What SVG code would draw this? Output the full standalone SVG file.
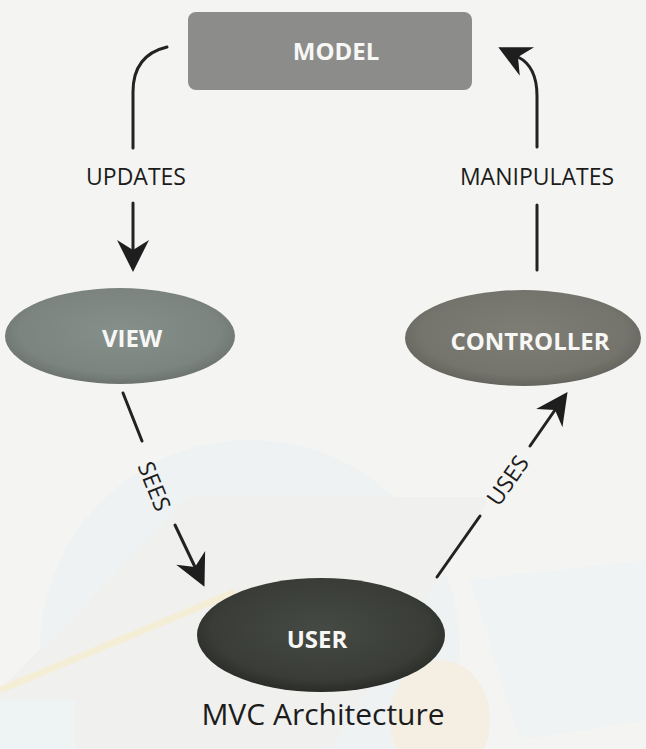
<svg xmlns="http://www.w3.org/2000/svg" width="646" height="749" viewBox="0 0 646 749">
<style>
.lbl{font-family:"Open Sans","Liberation Sans",sans-serif;font-size:23px;fill:#1c1c1c;text-anchor:middle;dominant-baseline:central}
.ntx{font-family:"Open Sans","Liberation Sans",sans-serif;font-size:24px;font-weight:bold;fill:#f7f7f5;text-anchor:middle;dominant-baseline:central}
.cap{font-family:"Open Sans","Liberation Sans",sans-serif;font-size:30px;fill:#1c1c1c;text-anchor:middle}
.ln{fill:none;stroke:#222;stroke-width:3;stroke-linecap:round}
.wm{stroke:none}
</style>
<defs>
<marker id="ah" viewBox="-12 -17 36 34" markerWidth="36" markerHeight="34" refX="0" refY="0" orient="auto" markerUnits="userSpaceOnUse">
<path d="M22,0 L-10,-16 L0,0 L-10,16 Z" fill="#1e1e1e"/>
</marker>
<radialGradient id="gView" cx="50%" cy="45%" r="55%"><stop offset="0" stop-color="#86908b"/><stop offset="0.8" stop-color="#7b847f"/><stop offset="1" stop-color="#6c736f"/></radialGradient>
<radialGradient id="gCtrl" cx="50%" cy="45%" r="55%"><stop offset="0" stop-color="#7e7e77"/><stop offset="0.8" stop-color="#74746c"/><stop offset="1" stop-color="#65655e"/></radialGradient>
<radialGradient id="gUser" cx="50%" cy="45%" r="55%"><stop offset="0" stop-color="#464a44"/><stop offset="0.8" stop-color="#393c37"/><stop offset="1" stop-color="#2a2c28"/></radialGradient>
</defs>
<rect width="646" height="749" fill="#f4f4f2"/>
<g id="watermark" opacity="0.35">
<circle class="wm" cx="250" cy="650" r="210" fill="#e4f1f7"/>
<path class="wm" d="M190,497 L480,497 Q490,497 484,507 L330,749 L0,749 L0,690 Z" fill="#e9e9e7"/>
<path class="wm" d="M470,580 L646,560 L646,720 L520,740 Z" fill="#e6f2f7"/>
<rect class="wm" x="0" y="700" width="75" height="49" fill="#e3f3fa"/>
<ellipse class="wm" cx="440" cy="720" rx="50" ry="60" fill="#f6e6c6"/>
<path d="M0,690 L235,592" stroke="#f7e3a4" stroke-width="7" fill="none"/>
</g>
<g id="model">
<rect x="188" y="12" width="284" height="78" rx="8" fill="#8c8c8a"/>
<text class="ntx" x="336" y="50">MODEL</text>
</g>
<g id="view">
<ellipse cx="120" cy="336" rx="115" ry="48" fill="url(#gView)"/>
<text class="ntx" x="132" y="337">VIEW</text>
</g>
<g id="controller">
<ellipse cx="523" cy="338" rx="118" ry="48" fill="url(#gCtrl)"/>
<text class="ntx" x="530" y="340">CONTROLLER</text>
</g>
<g id="user">
<ellipse cx="321" cy="635" rx="124" ry="57" fill="url(#gUser)"/>
<text class="ntx" x="317" y="638">USER</text>
</g>
<g id="connectors">
<path class="ln" d="M167,47 C146,52 133,66 133,92 L133,148"/>
<path class="ln" d="M133,203 L133,250" marker-end="url(#ah)"/>
<text class="lbl" x="136" y="176">UPDATES</text>
<path class="ln" d="M537,205 L537,270"/>
<path class="ln" d="M537,147 L537,96 C537,76 530,63 518,57" marker-end="url(#ah)"/>
<text class="lbl" x="537" y="176">MANIPULATES</text>
<path class="ln" d="M123,393 L142,441"/>
<path class="ln" d="M175,525 L195,567" marker-end="url(#ah)"/>
<text class="lbl" transform="translate(155,486) rotate(68)">SEES</text>
<path class="ln" d="M437,577 L480,516"/>
<path class="ln" d="M530,446 L555,410" marker-end="url(#ah)"/>
<text class="lbl" transform="translate(507,480) rotate(-55)">USES</text>
</g>
<g id="caption">
<text class="cap" x="323" y="725">MVC Architecture</text>
</g>
</svg>
